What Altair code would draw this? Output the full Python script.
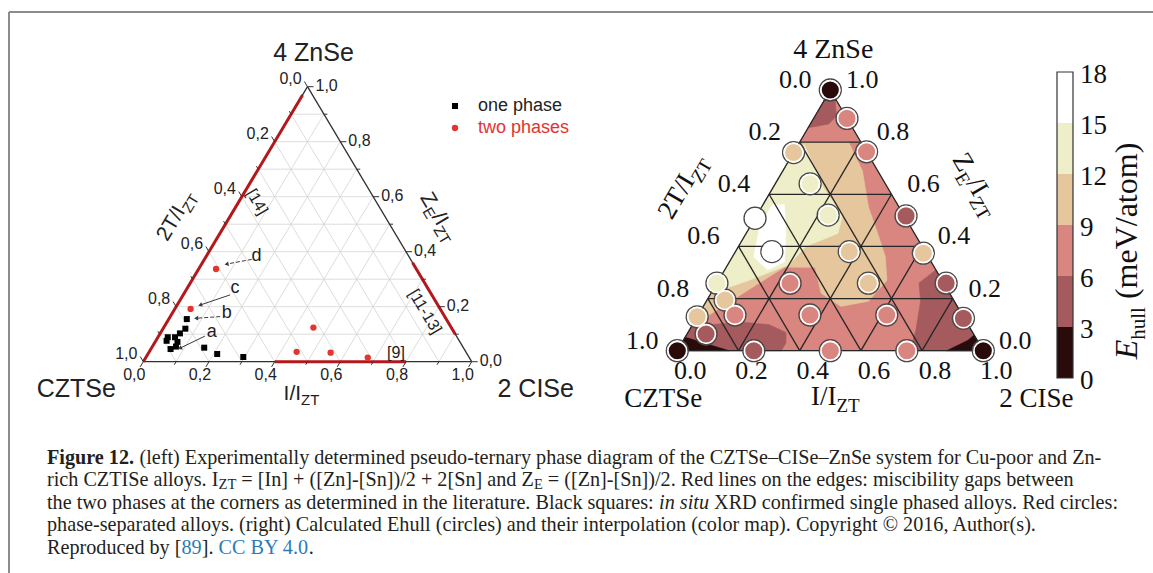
import math
import altair as alt
import pandas as pd

# ===================================================================
# DATA
# ===================================================================
# ---- left panel: experiment; ternary coords I = I/I_ZT, Z = Z_E/I_ZT
one_phase_I = [0.055, 0.068, 0.060, 0.030, 0.052, 0.033, 0.068, 0.072, 0.060, 0.160, 0.211, 0.296]
one_phase_Z = [0.155, 0.120, 0.103, 0.089, 0.089, 0.076, 0.072, 0.055, 0.046, 0.051, 0.028, 0.017]
two_phase_I = [0.053, 0.048, 0.456, 0.449, 0.554, 0.676]
two_phase_Z = [0.337, 0.192, 0.124, 0.036, 0.033, 0.015]

# miscibility gaps from literature (edge, start, end)
gap_side = ["left", "bottom", "right"]
gap_start = [0.00, 0.40, 0.10]
gap_end = [0.97, 0.80, 0.36]

# annotations a-d (label position, arrow start, arrow end), ternary coords
note_label = ["a", "b", "c", "d"]
note_I = [0.154, 0.166, 0.146, 0.153]
note_Z = [0.109, 0.176, 0.267, 0.384]
note_from_I = [0.141, 0.152, 0.143, 0.144]
note_from_Z = [0.093, 0.164, 0.243, 0.372]
note_to_I = [0.087, 0.082, 0.070, 0.076]
note_to_Z = [0.049, 0.158, 0.206, 0.355]
note_dashed = [False, True, False, True]

ref_label = ["[14]", "[11-13]", "[9]"]
ref_I = [0.056, 0.767, 0.753]
ref_Z = [0.581, 0.182, 0.033]

legend_labels = ["one phase", "two phases"]
tick_values = [0.0, 0.2, 0.4, 0.6, 0.8, 1.0]

# ---- right panel: calculated E_hull (meV/atom)
calc_I = [0.000, 0.109, 0.000, 0.237, 0.114, 0.233, 0.000, 0.489, 0.119, 0.372, 0.617, 0.000, 0.239, 0.495,
          0.749, 0.059, 0.000, 0.120, 0.365, 0.616, 0.873, 0.062, 0.000, 0.250, 0.500, 0.750, 1.000]
calc_Z = [1.000, 0.891, 0.760, 0.763, 0.640, 0.520, 0.508, 0.517, 0.380, 0.380, 0.374, 0.259, 0.259, 0.259,
          0.259, 0.194, 0.130, 0.137, 0.137, 0.137, 0.124, 0.064, 0.000, 0.000, 0.000, 0.000, 0.000]
calc_E = [1.0, 7.5, 11.0, 7.8, 13.5, 13.2, 16.0, 5.0, 16.5, 10.5, 10.0, 13.0, 7.5, 10.2,
          5.5, 11.0, 10.5, 7.0, 7.5, 7.2, 5.2, 4.8, 0.5, 5.0, 7.0, 7.5, 0.8]

# interpolated colour map, as contour regions (level, ternary polygon), painted in order
region_level = [7.5, 10.5, 13.5, 16.5, 4.5, 4.5, 4.5, 1.5, 1.5, 1.5]
region_I = [
    [0.0, 1.0, 0.0],
    [0.0, 0.16, 0.26, 0.35, 0.43, 0.50, 0.55, 0.53, 0.45, 0.36, 0.29, 0.19, 0.13, 0.08, 0.03, 0.0],
    [0.0, 0.02, 0.10, 0.17, 0.28, 0.30, 0.22, 0.20, 0.10, 0.04, 0.0],
    [0.03, 0.07, 0.13, 0.18, 0.14, 0.07, 0.03],
    [0.0, 0.03, 0.07, 0.06, 0.0],
    [0.0, 0.0, 0.06, 0.15, 0.25, 0.32, 0.34, 0.34],
    [0.69, 0.66, 0.70, 0.74, 0.76, 1.0],
    [0.0, 0.0, 0.04],
    [0.0, 0.17, 0.06, 0.01, 0.0],
    [1.0, 0.88, 0.93, 0.94],
]
region_Z = [
    [0.0, 0.0, 1.0],
    [0.80, 0.80, 0.69, 0.55, 0.45, 0.36, 0.27, 0.19, 0.17, 0.22, 0.32, 0.32, 0.25, 0.19, 0.13, 0.10],
    [0.79, 0.79, 0.70, 0.62, 0.52, 0.45, 0.40, 0.33, 0.27, 0.24, 0.22],
    [0.56, 0.56, 0.45, 0.34, 0.31, 0.36, 0.48],
    [0.97, 0.97, 0.90, 0.87, 0.855],
    [0.0, 0.10, 0.10, 0.11, 0.10, 0.07, 0.03, 0.0],
    [0.31, 0.26, 0.19, 0.08, 0.0, 0.0],
    [1.0, 0.96, 0.96],
    [0.0, 0.0, 0.033, 0.049, 0.05],
    [0.0, 0.0, 0.04, 0.06],
]

cbar_edges = [0, 3, 6, 9, 12, 15, 18]
cbar_colors = ["#2a0b0b", "#a55b5e", "#d98580", "#e6c69c", "#eeeec9", "#ffffff"]

caption_lines = [
    [("Figure 12.", "bold", None), (" (left) Experimentally determined pseudo-ternary phase diagram of the "
                                    "CZTSe\u2013CISe\u2013ZnSe system for Cu-poor and Zn-", "n", None)],
    [("rich CZTISe alloys. I", "n", None), ("ZT", "sub", None),
     (" = [In] + ([Zn]-[Sn])/2 + 2[Sn] and Z", "n", None), ("E", "sub", None),
     (" = ([Zn]-[Sn])/2. Red lines on the edges: miscibility gaps between", "n", None)],
    [("the two phases at the corners as determined in the literature. Black squares: ", "n", None),
     ("in situ", "it", None), (" XRD confirmed single phased alloys. Red circles:", "n", None)],
    [("phase-separated alloys. (right) Calculated Ehull (circles) and their interpolation (color map). "
      "Copyright \u00a9 2016, Author(s).", "n", None)],
    [("Reproduced by [", "n", None), ("89", "n", "#2b7bb9"), ("]. ", "n", None),
     ("CC BY 4.0", "n", "#2b7bb9"), (".", "n", None)],
]

# ===================================================================
# LAYOUT / STYLE
# ===================================================================
FIG_W, FIG_H = 1153, 573
SANS = "Liberation Sans"
SERIF = "Liberation Serif"
PANELS = {"L": dict(x0=143.3, y0=361.7, w=328.4, h=275.0),
          "R": dict(x0=677.3, y0=350.7, w=306.0, h=260.7)}

XS = alt.Scale(domain=[0, FIG_W], nice=False, zero=False)
YS = alt.Scale(domain=[0, FIG_H], nice=False, zero=False, reverse=True)
cscale = alt.Scale(type="threshold", domain=cbar_edges[1:-1], range=cbar_colors)


def tern(p, I, Z):
    P = PANELS[p]
    return (P["x0"] + I * P["w"] + Z * P["w"] / 2.0, P["y0"] - Z * P["h"])


def edge_angle(p):
    P = PANELS[p]
    return math.degrees(math.atan2(P["h"], P["w"] / 2.0))


_T = {' ': 250, '!': 333, '"': 408, '#': 500, '$': 500, '%': 833, '&': 778, "'": 180, '(': 333, ')': 333,
      '*': 500, '+': 564, ',': 250, '-': 333, '.': 250, '/': 278, ':': 278, ';': 278, '<': 564, '=': 564,
      '>': 564, '?': 444, '@': 921, '[': 333, '\\': 278, ']': 333, '^': 469, '_': 500, '\u2013': 500,
      '\u00a9': 760}
for c in "0123456789":
    _T[c] = 500
for c, w in zip("ABCDEFGHIJKLMNOPQRSTUVWXYZ",
                [722, 667, 667, 722, 611, 556, 722, 722, 333, 389, 722, 611, 889, 722, 722, 556, 722, 667,
                 556, 611, 722, 722, 944, 722, 722, 611]):
    _T[c] = w
for c, w in zip("abcdefghijklmnopqrstuvwxyz",
                [444, 500, 444, 500, 444, 333, 500, 500, 278, 278, 500, 278, 778, 500, 500, 500, 500, 333,
                 389, 278, 500, 500, 722, 500, 500, 444]):
    _T[c] = w
TIMES = _T
TIMES_BOLD = dict(_T, **{'F': 611, 'u': 556, 'r': 444, 'g': 500})
ARIAL = {' ': 278, '/': 278, 'I': 278, 'T': 611, 'Z': 611, 'E': 667, 'n': 556, 'S': 667, 'e': 556,
         'C': 722, ',': 278}
for c in "0123456789":
    ARIAL[c] = 556


def tw(text, size, table):
    return sum(table.get(c, 500) for c in text) * size / 1000.0


def XY():
    return dict(x=alt.X("x:Q", scale=XS, axis=None), y=alt.Y("y:Q", scale=YS, axis=None))


def rules(rows, **mk):
    df = pd.DataFrame(rows, columns=["x", "y", "x2", "y2"])
    return alt.Chart(df).mark_rule(**mk).encode(**XY(), x2=alt.X2("x2"), y2=alt.Y2("y2"))


def texts(rows, **mk):
    df = pd.DataFrame(rows, columns=["x", "y", "t"])
    return alt.Chart(df).mark_text(**mk).encode(**XY(), text=alt.Text("t:N"))


def rich(anchor, pieces, font, table, angle=0.0, along=0.0, perp=0.0, centered=True, color="black",
         bold_table=None, sub_shift=0.25):
    """pieces: (text, size, kind[, colour]); kind in n / sub / it / bold"""
    main = max(p[1] for p in pieces)

    def width(t, s, kind):
        return tw(t, s, bold_table if (kind == "bold" and bold_table) else table)
    total = sum(width(p[0], p[1], p[2]) for p in pieces)
    cur = along - (total / 2.0 if centered else 0.0)
    base = perp + 0.35 * main
    out = []
    for p in pieces:
        t, s, kind = p[0], p[1], p[2]
        col = p[3] if len(p) > 3 and p[3] else color
        lead = len(t) - len(t.lstrip(" "))
        cur += width(" " * lead, s, kind)
        core = t.strip(" ")
        if core:
            mk = dict(font=font, fontSize=s, align="left", baseline="alphabetic", angle=angle % 360,
                      dx=cur, dy=base + (sub_shift * main if kind == "sub" else 0.0), color=col)
            if kind == "it":
                mk["fontStyle"] = "italic"
            if kind == "bold":
                mk["fontWeight"] = "bold"
            out.append(texts([(anchor[0], anchor[1], core)], **mk))
        cur += width(t.lstrip(" "), s, kind)
    return out


layers = []

# ---- figure frame
layers.append(rules([(9, 12, FIG_W, 12), (9, 12, 9, FIG_H)], color="#8c8c8c", strokeWidth=2))

# ===================== LEFT PANEL =====================
grid = []
for k in range(1, 10):
    s = k / 10.0
    grid.append(tern("L", 0, s) + tern("L", 1 - s, s))
    grid.append(tern("L", s, 0) + tern("L", s, 1 - s))
    grid.append(tern("L", s, 0) + tern("L", 0, s))
layers.append(rules(grid, color="#d4d4d4", strokeWidth=0.8))

edges_L = [tern("L", 0, 0) + tern("L", 1, 0), tern("L", 1, 0) + tern("L", 0, 1), tern("L", 0, 1) + tern("L", 0, 0)]
layers.append(rules(edges_L, color="#303030", strokeWidth=1.3))

gaps = []
for side, a, b in zip(gap_side, gap_start, gap_end):
    if side == "left":
        gaps.append(tern("L", 0, a) + tern("L", 0, b))
    elif side == "bottom":
        gaps.append(tern("L", a, 0) + tern("L", b, 0))
    else:
        gaps.append(tern("L", 1 - a, a) + tern("L", 1 - b, b))
layers.append(rules(gaps, color="#b3181c", strokeWidth=3))

# ticks
PL = PANELS["L"]
nb = math.hypot(PL["w"] / 2, PL["h"])
dir_bottom = (-PL["w"] / 2 / nb, PL["h"] / nb)
dir_left = (-PL["w"] / 2 / nb, -PL["h"] / nb)
dir_right = (1.0, 0.0)
ticks = []
for k in range(0, 11):
    v = k / 10.0
    ln = 6.0 if k % 2 == 0 else 3.5
    for (I, Z), d in [((v, 0), dir_bottom), ((1 - v, v), dir_right), ((0, v), dir_left)]:
        x, y = tern("L", I, Z)
        ticks.append((x, y, x + d[0] * ln, y + d[1] * ln))
layers.append(rules(ticks, color="#303030", strokeWidth=1))

# data points
sq = pd.DataFrame([tern("L", i, z) for i, z in zip(one_phase_I, one_phase_Z)], columns=["x", "y"])
layers.append(alt.Chart(sq).mark_point(shape="square", filled=True, size=36, color="black", opacity=1)
              .encode(**XY()))
rc = pd.DataFrame([tern("L", i, z) for i, z in zip(two_phase_I, two_phase_Z)], columns=["x", "y"])
layers.append(alt.Chart(rc).mark_point(shape="circle", filled=True, size=40, color="#e5332e", opacity=1)
              .encode(**XY()))

# annotations
heads = []
for lab, fi, fz, ti, tz, dashed in zip(note_label, note_from_I, note_from_Z, note_to_I, note_to_Z, note_dashed):
    a = tern("L", fi, fz)
    b = tern("L", ti, tz)
    mk = dict(color="#3a3a3a", strokeWidth=1)
    if dashed:
        mk["strokeDash"] = [4, 2]
    layers.append(rules([a + b], **mk))
    ang = math.degrees(math.atan2(b[0] - a[0], -(b[1] - a[1]))) % 360
    heads.append((b[0], b[1], ang))
hd = pd.DataFrame(heads, columns=["x", "y", "ang"])
layers.append(alt.Chart(hd).mark_point(shape="triangle-up", filled=True, size=22, color="#3a3a3a", opacity=1)
              .encode(**XY(), angle=alt.Angle("ang:Q", scale=None)))
layers.append(texts([tern("L", i, z) + (l,) for l, i, z in zip(note_label, note_I, note_Z)],
                    font=SANS, fontSize=18, color="#222"))

ea = edge_angle("L")
ref_angles = [ea, ea, 0]
for lab, i, z, an in zip(ref_label, ref_I, ref_Z, ref_angles):
    layers.append(texts([tern("L", i, z) + (lab,)], font=SANS, fontSize=16, color="#222", angle=an % 360))


def cfmt(v):
    return ("%.1f" % v).replace(".", ",")


layers.append(texts([tern("L", 0, 1 - v) + (cfmt(v),) for v in tick_values], font=SANS, fontSize=16,
                    dx=-17, dy=-8, align="center", baseline="middle", color="#222"))
layers.append(texts([tern("L", 1 - v, v) + (cfmt(v),) for v in tick_values], font=SANS, fontSize=16,
                    dx=8, dy=-1, align="left", baseline="middle", color="#222"))
layers.append(texts([tern("L", v, 0) + (cfmt(v),) for v in tick_values], font=SANS, fontSize=16,
                    dx=-9, dy=13, align="center", baseline="middle", color="#222"))

# corner and axis titles
layers.append(texts([tern("L", 0, 1) + ("4 ZnSe",)], font=SANS, fontSize=25, dx=6, dy=-34,
                    align="center", baseline="middle", color="#222"))
layers.append(texts([tern("L", 0, 0) + ("CZTSe",)], font=SANS, fontSize=25, dx=-67, dy=27,
                    align="center", baseline="middle", color="#222"))
layers.append(texts([tern("L", 1, 0) + ("2 CISe",)], font=SANS, fontSize=25, dx=64, dy=27,
                    align="center", baseline="middle", color="#222"))
layers += rich(tern("L", 0.5, 0), [("I/I", 21, "n"), ("ZT", 15, "sub")], SANS, ARIAL,
               along=-6, perp=31, color="#222")
layers += rich(tern("L", 0, 0.5), [("2T/I", 21, "n"), ("ZT", 15, "sub")], SANS, ARIAL,
               angle=-ea, along=-18, perp=-48, color="#222")
layers += rich(tern("L", 0.5, 0.5), [("Z", 21, "n"), ("E", 15, "sub"), ("/I", 21, "n"), ("ZT", 15, "sub")],
               SANS, ARIAL, angle=ea, along=19, perp=-47, color="#222")

# legend
lg_sym = pd.DataFrame({"x": [455], "y": [106]})
layers.append(alt.Chart(lg_sym).mark_point(shape="square", filled=True, size=36, color="black", opacity=1)
              .encode(**XY()))
lg_sym2 = pd.DataFrame({"x": [455], "y": [128]})
layers.append(alt.Chart(lg_sym2).mark_point(shape="circle", filled=True, size=40, color="#e5332e", opacity=1)
              .encode(**XY()))
layers.append(texts([(478, 106, legend_labels[0])], font=SANS, fontSize=18, align="left", baseline="middle",
                    color="#222"))
layers.append(texts([(478, 128, legend_labels[1])], font=SANS, fontSize=18, align="left", baseline="middle",
                    color="#e5332e"))

# ===================== RIGHT PANEL =====================
features = []
for lvl, Is, Zs in zip(region_level, region_I, region_Z):
    ring = [list(tern("R", i, z)) for i, z in zip(Is, Zs)]
    ring.append(ring[0])
    features.append({"type": "Feature", "properties": {"level": lvl},
                     "geometry": {"type": "Polygon", "coordinates": [ring]}})
layers.append(alt.Chart(alt.Data(values=features)).mark_geoshape(strokeWidth=0.6)
              .encode(color=alt.Color("properties.level:Q", scale=cscale, legend=None),
                      stroke=alt.Stroke("properties.level:Q", scale=cscale, legend=None))
              .project(type="identity", scale=1, translate=[0, 0]))

gridR = []
for k in [0.2, 0.4, 0.6, 0.8]:
    gridR.append(tern("R", 0, k) + tern("R", 1 - k, k))
    gridR.append(tern("R", k, 0) + tern("R", k, 1 - k))
    gridR.append(tern("R", k, 0) + tern("R", 0, k))
gridR += [tern("R", 0, 0) + tern("R", 1, 0), tern("R", 1, 0) + tern("R", 0, 1), tern("R", 0, 1) + tern("R", 0, 0)]
layers.append(rules(gridR, color="#262626", strokeWidth=1.3))

cdf = pd.DataFrame([tern("R", i, z) + (e,) for i, z, e in zip(calc_I, calc_Z, calc_E)], columns=["x", "y", "E"])
layers.append(alt.Chart(cdf).mark_point(shape="circle", filled=False, size=484, stroke="#4a4a4a",
                                        strokeWidth=1.3, opacity=1).encode(**XY()))
layers.append(alt.Chart(cdf).mark_point(shape="circle", filled=True, size=350, stroke="white",
                                        strokeWidth=1.6, opacity=1)
              .encode(**XY(), color=alt.Color("E:Q", scale=cscale, legend=None)))


def dfmt(v):
    return "%.1f" % v


RFS = 26
layers.append(texts([tern("R", 0, 1 - v) + (dfmt(v),) for v in tick_values], font=SERIF, fontSize=RFS,
                    dx=-35, dy=-10, align="center", baseline="middle", color="#111"))
layers.append(texts([tern("R", 1 - v, v) + (dfmt(v),) for v in tick_values], font=SERIF, fontSize=RFS,
                    dx=32, dy=-10, align="center", baseline="middle", color="#111"))
layers.append(texts([tern("R", v, 0) + (dfmt(v),) for v in tick_values], font=SERIF, fontSize=RFS,
                    dx=13, dy=20, align="center", baseline="middle", color="#111"))

layers.append(texts([tern("R", 0, 1) + ("4 ZnSe",)], font=SERIF, fontSize=28, dx=3, dy=-40,
                    align="center", baseline="middle", color="#111"))
layers.append(texts([tern("R", 0, 0) + ("CZTSe",)], font=SERIF, fontSize=27, dx=-14, dy=48,
                    align="center", baseline="middle", color="#111"))
layers.append(texts([tern("R", 1, 0) + ("2 CISe",)], font=SERIF, fontSize=27, dx=53, dy=48,
                    align="center", baseline="middle", color="#111"))
eaR = edge_angle("R")
layers += rich(tern("R", 0.5, 0), [("I/I", 27, "n"), ("ZT", 19, "sub")], SERIF, TIMES,
               along=5, perp=45, color="#111")
layers += rich(tern("R", 0, 0.5), [("2T/I", 27, "n"), ("ZT", 19, "sub")], SERIF, TIMES,
               angle=-eaR, along=-7, perp=-80, color="#111")
layers += rich(tern("R", 0.5, 0.5), [("Z", 27, "n"), ("E", 19, "sub"), ("/I", 27, "n"), ("ZT", 19, "sub")],
               SERIF, TIMES, angle=eaR, along=4, perp=-79, color="#111")

# ---- colour bar
CB_X0, CB_X1, CB_Y0, CB_Y1 = 1057, 1073, 378, 72


def cb_y(v):
    return CB_Y0 + (CB_Y1 - CB_Y0) * v / cbar_edges[-1]


cbd = pd.DataFrame({"x": [CB_X0] * 6, "x2": [CB_X1] * 6,
                    "y": [cb_y(v) for v in cbar_edges[:-1]], "y2": [cb_y(v) for v in cbar_edges[1:]],
                    "mid": [(a + b) / 2 for a, b in zip(cbar_edges[:-1], cbar_edges[1:])]})
layers.append(alt.Chart(cbd).mark_rect().encode(**XY(), x2=alt.X2("x2"), y2=alt.Y2("y2"),
                                                 color=alt.Color("mid:Q", scale=cscale, legend=None)))
cbo = pd.DataFrame({"x": [CB_X0], "x2": [CB_X1], "y": [cb_y(0)], "y2": [cb_y(18)]})
layers.append(alt.Chart(cbo).mark_rect(fillOpacity=0, stroke="#333", strokeWidth=1.2)
              .encode(**XY(), x2=alt.X2("x2"), y2=alt.Y2("y2")))
layers.append(texts([(CB_X1, cb_y(v), str(v)) for v in cbar_edges], font=SERIF, fontSize=27, dx=7, dy=3,
                    align="left", baseline="middle", color="#111"))
layers += rich((CB_X0 + 8, cb_y(9)), [("E", 32, "it"), ("hull", 21, "sub"), (" (meV/atom)", 32, "n")],
               SERIF, TIMES, angle=270, along=-26, perp=61, color="#111")

# ---- caption
CAP_X, CAP_Y0, CAP_DY, CAP_X_END = 47, 457, 22.4, 1102
em1 = sum(tw(t, 1000, TIMES_BOLD if k == "bold" else TIMES) for t, k, _ in caption_lines[0]) / 1000.0
CAP_FS = (CAP_X_END - CAP_X) / em1
for li, line in enumerate(caption_lines):
    pieces = [(t, CAP_FS * (0.72 if k == "sub" else 1.0), k, c) for t, k, c in line]
    layers += rich((CAP_X, CAP_Y0 + li * CAP_DY), pieces, SERIF, TIMES, centered=False, color="#231f20",
                   bold_table=TIMES_BOLD, sub_shift=0.15)

chart = alt.layer(*layers).properties(
    width=FIG_W, height=FIG_H, autosize=alt.AutoSizeParams(type="none"), padding=0,
    background="white"
).configure_view(strokeWidth=0)

chart.save("out.html", embed_options={"renderer": "svg", "actions": False})
